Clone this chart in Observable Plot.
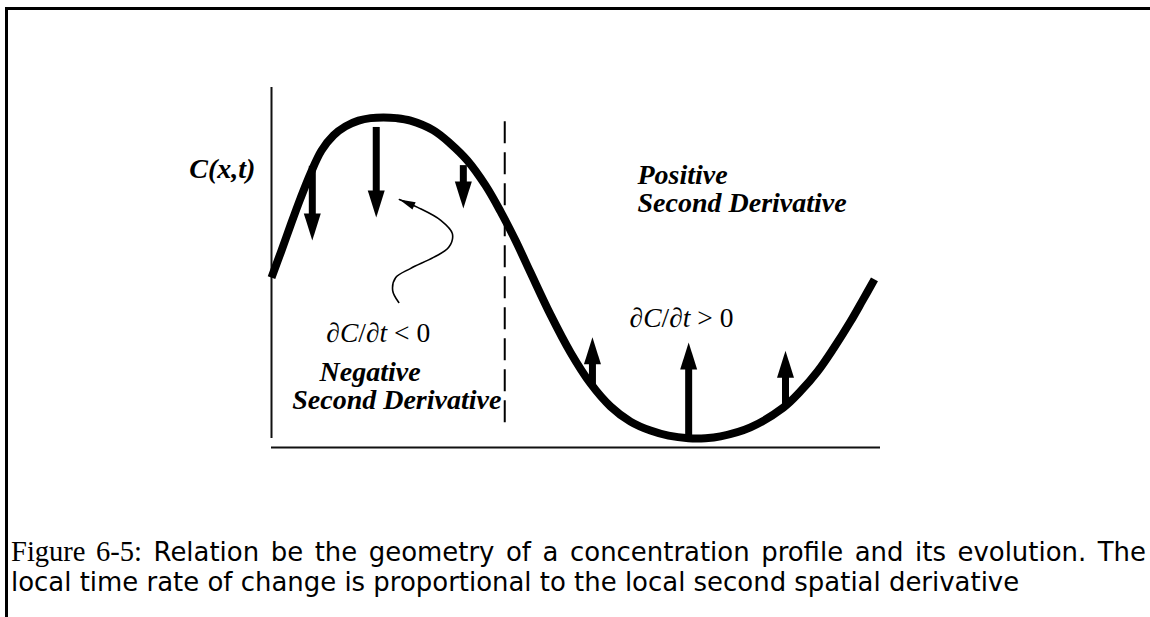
<!DOCTYPE html>
<html><head><meta charset="utf-8">
<script src="https://cdn.jsdelivr.net/npm/d3@7"></script>
<script src="https://cdn.jsdelivr.net/npm/@observablehq/plot@0.6"></script>
<style>
html,body{margin:0;padding:0;background:#fff;width:1150px;height:617px;overflow:hidden;position:relative}
#frame{position:absolute;left:5px;top:7px;width:1200px;height:700px;border-top:3px solid #000;border-left:3px solid #000;}
#chart{position:absolute;left:0;top:0;}
.cap{position:absolute;left:11px;white-space:nowrap;font-family:"DejaVu Sans",sans-serif;font-size:24px;line-height:24px;color:#000}
#cap1{width:1135px;text-align:justify;text-align-last:justify;}
.fig{font-family:"Liberation Serif",serif;font-size:1.1em}
</style></head><body>
<div id="frame"></div>
<div id="chart"></div>
<div id="cap1" class="cap"></div>
<div id="cap2" class="cap"><span id="cap2in"></span></div>
<script>
// ---- data ----
// concentration profile C(x,t): position x (0..10) and concentration (0..1)
const profileX = [0.000,0.164,0.312,0.476,0.640,0.821,1.018,1.215,1.429,1.626,1.839,2.053,2.282,2.660,2.939,3.218,3.514,3.760,4.007,4.253,4.581,4.910,5.238,5.567,5.895,6.223,6.519,6.847,7.126,7.373,7.865,8.407,8.686,8.966,9.228,9.507,9.704,9.901];
const profileC = [0.472,0.547,0.617,0.692,0.761,0.825,0.867,0.892,0.908,0.915,0.917,0.915,0.908,0.881,0.844,0.797,0.728,0.656,0.575,0.486,0.369,0.264,0.178,0.114,0.072,0.047,0.033,0.026,0.026,0.031,0.056,0.111,0.156,0.211,0.275,0.350,0.408,0.467];
// dC/dt arrows: position, start (on curve), tip
const arrowX    = [0.67, 1.72, 3.15, 5.27, 6.85, 8.44];
const arrowFrom = [0.781,0.889,0.783,0.167,0.028,0.111];
const arrowTo   = [0.575,0.639,0.664,0.306,0.292,0.269];
// inflection point separator
const inflectionX = [3.83];
const inflectionFrom = 0.069, inflectionTo = 0.914;
// thin pointer from the label to the peak arrow
const pointerX = [2.09,1.99,2.04,2.28,2.66,2.91,2.97,2.78,2.40,2.10];
const pointerC = [0.403,0.436,0.472,0.497,0.528,0.556,0.594,0.631,0.667,0.689];
// labels
const labelText = ["C(x,t)", "Positive", "Second Derivative", "Negative", "Second Derivative"];
const labelX = [-1.35, 6.01, 6.01, 0.79, 0.34];
const labelC = [0.75, 0.733, 0.653, 0.186, 0.108];
const mathText = ["∂C/∂t < 0", "∂C/∂t > 0"];
const mathX = [0.90, 5.88];
const mathC = [0.292, 0.336];
const captionFig = "Figure 6-5:";
const captionLine1 = "Relation be the geometry of a concentration profile and its evolution. The";
const captionLine2 = "local time rate of change is proportional to the local second spatial derivative";

// ---- layout ----
const W = 1150, H = 520, mL = 271, mR = 270, mT = 87, mB = 73;
const xDom = [0, 10], yDom = [0, 1];
const kx = (W - mL - mR) / (xDom[1] - xDom[0]);
const ky = (H - mT - mB) / (yDom[1] - yDom[0]);

const profile = profileX.map((x, i) => ({x, c: profileC[i]}));
const arrows = arrowX.map((x, i) => ({x, from: arrowFrom[i], to: arrowTo[i], dir: Math.sign(arrowTo[i] - arrowFrom[i])}));
const pointer = pointerX.map((x, i) => ({x, c: pointerC[i]}));
const labels = labelText.map((t, i) => ({t, x: labelX[i], c: labelC[i]}));
const maths = mathText.map((t, i) => ({t, x: mathX[i], c: mathC[i]}));

const headL = 27, headW = 17;
const headDown = {draw(ctx){ ctx.moveTo(0,0); ctx.lineTo(-headW/2,-headL); ctx.lineTo(headW/2,-headL); ctx.closePath(); }};
const headUp = {draw(ctx){ ctx.moveTo(0,0); ctx.lineTo(-headW/2,headL); ctx.lineTo(headW/2,headL); ctx.closePath(); }};

// thin pointer head oriented along the last segment (pixel space)
const n = pointer.length;
const dxp = (pointer[n-1].x - pointer[n-2].x) * kx;
const dyp = -(pointer[n-1].c - pointer[n-2].c) * ky;
const len = Math.hypot(dxp, dyp), ux = dxp/len, uy = dyp/len;
const pL = 16, pW = 8;
const pointerHead = {draw(ctx){
  const bx = -ux*pL, by = -uy*pL;
  ctx.moveTo(0,0);
  ctx.lineTo(bx - uy*pW/2, by + ux*pW/2);
  ctx.lineTo(bx + uy*pW/2, by - ux*pW/2);
  ctx.closePath();
}};

const boldItalic = {fontFamily: "Liberation Serif", fontWeight: "bold", fontStyle: "italic", fontSize: 28, textAnchor: "start", lineAnchor: "bottom", fill: "black"};

const plot = Plot.plot({
  width: W, height: H,
  marginLeft: mL, marginRight: mR, marginTop: mT, marginBottom: mB,
  x: {domain: xDom, axis: null},
  y: {domain: yDom, axis: null},
  style: {background: "transparent", overflow: "visible"},
  marks: [
    Plot.ruleX([0], {y1: 0.025, y2: 1, stroke: "#111", strokeWidth: 2}),
    Plot.ruleY([0], {x1: 0, x2: 10, stroke: "#111", strokeWidth: 2}),
    Plot.ruleX(inflectionX, {y1: inflectionFrom, y2: inflectionTo, stroke: "black", strokeWidth: 2, strokeDasharray: "22,9"}),
    Plot.line(profile, {x: "x", y: "c", curve: "catmull-rom", stroke: "black", strokeWidth: 8, strokeLinecap: "butt"}),
    Plot.ruleX(arrows, {x: "x", y1: "from", y2: d => d.to - d.dir * (headL - 3) / ky, stroke: "black", strokeWidth: 7}),
    Plot.dot(arrows.filter(d => d.dir < 0), {x: "x", y: "to", symbol: headDown, fill: "black", stroke: "none"}),
    Plot.dot(arrows.filter(d => d.dir > 0), {x: "x", y: "to", symbol: headUp, fill: "black", stroke: "none"}),
    Plot.line(pointer, {x: "x", y: "c", curve: "catmull-rom", stroke: "black", strokeWidth: 1.6}),
    Plot.dot(pointer.slice(-1), {x: "x", y: "c", symbol: pointerHead, fill: "black", stroke: "none"}),
    Plot.text(labels, {x: "x", y: "c", text: "t", ...boldItalic}),
    Plot.text(maths, {x: "x", y: "c", text: "t", fontFamily: "Liberation Serif", fontSize: 27.5, textAnchor: "start", lineAnchor: "bottom", fill: "black"})
  ]
});
document.getElementById("chart").appendChild(plot);

// italic variables in the math labels
plot.querySelectorAll("text").forEach(t => {
  const s = t.textContent;
  if (s.startsWith("∂C/∂t")) {
    const ns = "http://www.w3.org/2000/svg";
    t.textContent = "";
    const parts = [["∂",""],["C","italic"],["/∂",""],["t","italic"],[s.slice(5),""]];
    parts.forEach(([txt, st]) => {
      const sp = document.createElementNS(ns, "tspan");
      if (st) sp.setAttribute("font-style", st);
      sp.textContent = txt;
      t.appendChild(sp);
    });
  }
});

// caption: fit the font size so line 2 spans the same width as in the figure
const c1 = document.getElementById("cap1");
const c2wrap = document.getElementById("cap2");
const fs = document.createElement("span"); fs.className = "fig"; fs.textContent = captionFig;
c1.appendChild(fs);
c1.appendChild(document.createTextNode(" " + captionLine1));
const c2 = document.getElementById("cap2in");
c2.textContent = captionLine2;
const natural = c2.getBoundingClientRect().width;
const target = 1009;
const F = 24 * target / natural;
[c1, c2wrap].forEach(el => { el.style.fontSize = F + "px"; el.style.lineHeight = "24px"; });
const base1 = 561, base2 = 591;
const off = 12 + 0.346 * F;
c1.style.top = (base1 - off) + "px";
c2wrap.style.top = (base2 - off) + "px";
</script>
</body></html>
